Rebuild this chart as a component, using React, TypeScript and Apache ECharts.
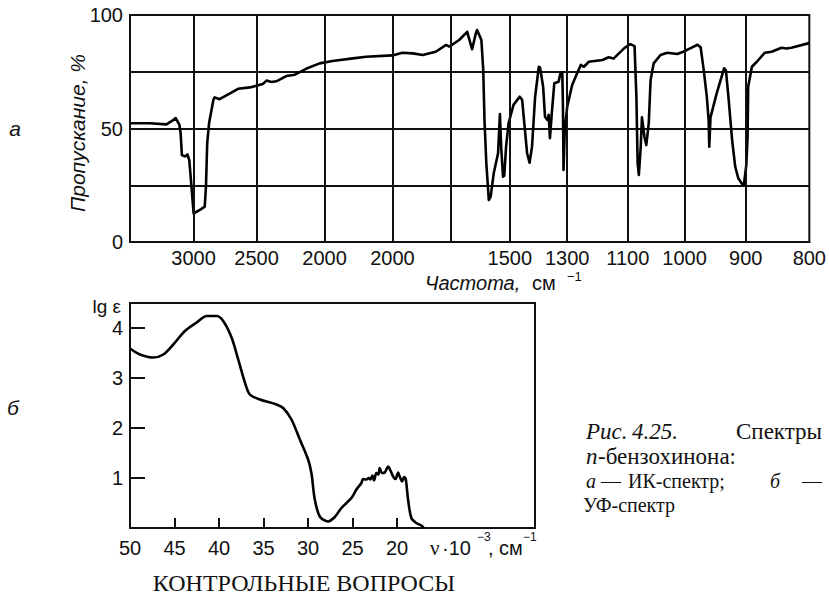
import React, { useEffect, useRef } from 'react';
import * as echarts from 'echarts';

// ---- IR spectrum (panel а) ----
// x positions are in "chart divisions" (the gridlines of the original chart)
const irGridPos = [0, 1.03, 2.05, 3.15, 4.25, 5.2, 6.15, 7.08, 8.06, 8.98, 9.97, 11];
const irTickLabels = ['', '3000', '2500', '2000', '2000', '', '1500', '1300', '1100', '1000', '900', '800'];

const irPos = [
  0.0, 0.32, 0.59, 0.7, 0.74, 0.8, 0.82, 0.84, 0.89, 0.93, 0.96, 1.0, 1.03, 1.13, 1.21, 1.23, 1.25, 1.28,
  1.35, 1.37, 1.45, 1.62, 1.75, 1.94, 2.15, 2.21, 2.29, 2.37, 2.53, 2.67, 2.85, 3.07, 3.28, 3.61, 3.82,
  4.25, 4.41, 4.58, 4.74, 4.95, 5.12, 5.17, 5.33, 5.46, 5.54, 5.6, 5.62,
  5.69, 5.72, 5.74, 5.77, 5.81, 5.84, 5.89, 5.96, 5.99, 6.01, 6.04, 6.06, 6.09, 6.13, 6.21, 6.31, 6.35,
  6.39, 6.43, 6.47, 6.51, 6.56, 6.62, 6.64, 6.69, 6.72, 6.76, 6.78, 6.8, 6.83, 6.87, 6.94, 6.97, 7.0,
  7.01, 7.02, 7.04, 7.08, 7.16, 7.24, 7.3, 7.35, 7.43, 7.65, 7.75, 7.83, 8.0,
  8.1, 8.17, 8.2, 8.22, 8.24, 8.27, 8.29, 8.33, 8.36, 8.4, 8.43, 8.48, 8.59, 8.7, 8.86, 8.96, 9.07,
  9.19, 9.24, 9.29, 9.34, 9.37, 9.38, 9.4, 9.5, 9.62, 9.65, 9.69, 9.75, 9.8, 9.85, 9.91, 9.94, 9.98,
  10.0, 10.01, 10.07, 10.15, 10.28, 10.39, 10.55, 10.63, 10.71, 10.98, 11.0,
];
const irTrans = [
  52.3, 52.3, 51.8, 53.7, 54.6, 51.6, 47.9, 38.3, 37.7, 38.6, 36.1, 22.9, 12.6, 14.1, 15.6, 24.4, 43.5, 52.3,
  62.6, 63.7, 62.9, 65.5, 67.5, 68.1, 69.6, 71.1, 70.5, 70.8, 73.1, 73.7, 76.3, 78.7, 79.7, 80.9, 81.6,
  82.2, 83.4, 83.1, 82.4, 83.8, 86.8, 86.1, 89.0, 92.6, 84.9, 91.9, 93.4,
  89.0, 75.8, 53.7, 34.7, 18.5, 20.0, 30.3, 39.1, 56.4, 42.0, 28.8, 29.2, 42.0, 52.3, 60.4, 64.0, 62.6,
  50.8, 39.1, 34.9, 42.0, 64.0, 77.2, 76.8, 68.4, 55.2, 53.7, 56.0, 45.7, 56.7, 69.9, 70.6, 74.3, 74.6,
  61.1, 31.7, 49.3, 59.6, 69.2, 74.3, 78.0, 77.2, 79.4, 80.2, 81.4, 80.8, 85.3,
  87.2, 86.3, 64.0, 34.7, 29.5, 42.0, 54.9, 46.4, 42.7, 52.3, 71.4, 78.7, 82.4, 83.4, 82.8, 83.8, 85.3,
  86.9, 85.8, 75.8, 64.0, 53.7, 42.0, 54.9, 65.5, 76.5, 75.5, 64.0, 44.9, 33.2, 28.1, 25.6, 25.1, 34.0,
  46.4, 68.4, 77.2, 79.4, 83.4, 83.8, 85.6, 85.2, 85.6, 87.5, 87.6,
];

// ---- UV spectrum (panel б) ----
const uvTicksX = [50, 45, 40, 35, 30, 25, 20];
const uvTicksY = [1, 2, 3, 4];
const uvWave = [
  50, 48.88, 47.38, 46.26, 45.14, 43.83, 42.51, 41.39, 40.27, 39.53, 38.59, 37.84, 37.09, 36.53, 35.41,
  33.54, 32.79, 31.86, 30.92, 29.99, 29.62, 29.24, 28.68, 27.75, 27.0, 26.25, 25.68, 25.12, 24.56, 24.0,
  23.82, 23.45, 23.18, 22.99, 22.77, 22.59, 22.32, 22.1, 21.95, 21.69, 21.38, 21.0, 20.74, 20.44, 20.17,
  19.88, 19.7, 19.43, 19.21, 19.02, 18.76, 18.39, 17.83, 17.26, 17.0,
];
const uvLgE = [
  3.59, 3.47, 3.41, 3.47, 3.67, 3.94, 4.11, 4.24, 4.24, 4.14, 3.81, 3.37, 2.91, 2.67, 2.57,
  2.47, 2.4, 2.17, 1.77, 1.37, 1.1, 0.57, 0.23, 0.13, 0.22, 0.4, 0.5, 0.6, 0.77, 0.9,
  0.98, 0.97, 1.0, 0.97, 1.05, 0.95, 1.1, 1.07, 1.2, 1.1, 1.11, 1.23, 1.15, 1.03, 0.98,
  1.11, 1.03, 0.93, 1.02, 0.98, 0.57, 0.2, 0.1, 0.05, 0.0,
];

const AX = '#111';
const SANS = '"Liberation Sans", Arial, sans-serif';
const SERIF = '"Liberation Serif", "Times New Roman", serif';

function irLabel(v: number): string {
  for (let i = 0; i < irGridPos.length; i++) {
    if (Math.abs(irGridPos[i] - v) < 1e-6) return irTickLabels[i];
  }
  return '';
}

function txt(text: string, x: number, y: number, font: string, align = 'left', extra: any = {}) {
  return {
    type: 'text',
    x,
    y,
    silent: true,
    ...extra,
    style: {
      text,
      font,
      fill: AX,
      align,
      textAlign: align,
      verticalAlign: 'middle',
      textVerticalAlign: 'middle',
    },
  };
}

export default function App() {
  const ref = useRef<HTMLDivElement>(null);

  useEffect(() => {
    if (!ref.current) return;
    const chart = echarts.init(ref.current, null, { renderer: 'svg' });

    const axisLine = { show: true, onZero: false, lineStyle: { color: AX, width: 2 } };
    const labelStyle = { color: AX, fontFamily: SANS, fontSize: 20 };

    const option: any = {
      animation: false,
      backgroundColor: '#fff',
      grid: [
        { left: 130, top: 15, width: 681, height: 227, show: true, borderColor: AX, borderWidth: 2, backgroundColor: 'transparent' },
        { left: 130, top: 303, width: 405, height: 225, show: true, borderColor: AX, borderWidth: 2, backgroundColor: 'transparent' },
      ],
      xAxis: [
        {
          type: 'value', gridIndex: 0, min: 0, max: 11,
          axisLine, axisTick: { show: false }, splitLine: { show: false },
          axisLabel: { ...labelStyle, customValues: irGridPos, formatter: (v: number) => irLabel(v), margin: 6, hideOverlap: false },
        },
        {
          type: 'value', gridIndex: 1, min: 4.5, max: 50, inverse: true,
          axisLine,
          axisTick: { show: true, inside: true, length: 10, customValues: uvTicksX, lineStyle: { color: AX, width: 2 } },
          axisLabel: { ...labelStyle, customValues: uvTicksX, margin: 10 },
          splitLine: { show: false },
        },
      ],
      yAxis: [
        {
          type: 'value', gridIndex: 0, min: 0, max: 100, interval: 25,
          axisLine, axisTick: { show: false },
          splitLine: { show: true, lineStyle: { color: AX, width: 2 } },
          axisLabel: { ...labelStyle, margin: 7, formatter: (v: number) => (v % 50 === 0 ? String(v) : '') },
        },
        {
          type: 'value', gridIndex: 1, min: 0, max: 4.5,
          axisLine,
          axisTick: { show: true, inside: true, length: 15, customValues: uvTicksY, lineStyle: { color: AX, width: 2 } },
          axisLabel: { ...labelStyle, customValues: uvTicksY, margin: 7 },
          splitLine: { show: false },
        },
      ],
      series: [
        {
          type: 'line', xAxisIndex: 0, yAxisIndex: 0,
          data: irPos.map((p, i) => [p, irTrans[i]]),
          symbol: 'none', showSymbol: false, smooth: false,
          lineStyle: { color: '#000', width: 2.6, join: 'round' },
          markLine: {
            silent: true, symbol: ['none', 'none'], label: { show: false },
            lineStyle: { type: 'solid', color: AX, width: 2 },
            emphasis: { disabled: true },
            data: irGridPos.slice(1, -1).map((v) => ({ xAxis: v })),
          },
        },
        {
          type: 'line', xAxisIndex: 1, yAxisIndex: 1,
          data: uvWave.map((w, i) => [w, uvLgE[i]]),
          symbol: 'none', showSymbol: false, smooth: 0.3,
          lineStyle: { color: '#000', width: 2.6, join: 'round' },
        },
      ],
      graphic: [
        txt('а', 15, 128, `italic 21px ${SANS}`, 'center'),
        txt('б', 13, 407, `italic 21px ${SANS}`, 'center'),
        txt('Пропускание, %', 77, 133, `italic 21px ${SANS}`, 'center', { rotation: Math.PI / 2 }),
        txt('Частота,', 425, 283, `italic 20px ${SANS}`, 'left'),
        txt('см', 532, 283, `20px ${SANS}`, 'left'),
        txt('−1', 567, 276, `13px ${SANS}`, 'left'),
        txt('lg ε', 121, 306, `19px ${SANS}`, 'right'),
        txt('ν', 430, 548, `21px ${SERIF}`, 'left'),
        txt('·10', 442, 548, `20px ${SANS}`, 'left'),
        txt('−3', 477, 537, `12px ${SANS}`, 'left'),
        txt(', см', 488, 548, `20px ${SANS}`, 'left'),
        txt('−1', 523, 537, `12px ${SANS}`, 'left'),
        // caption
        txt('Рис.', 586, 431, `italic 23px ${SERIF}`, 'left'),
        txt('4.25.', 632, 431, `italic 23px ${SERIF}`, 'left'),
        txt('Спектры', 822, 431, `23px ${SERIF}`, 'right'),
        txt('п', 586, 456, `italic 23px ${SERIF}`, 'left'),
        txt('-бензохинона:', 598, 456, `23px ${SERIF}`, 'left'),
        txt('а', 586, 481, `italic 20px ${SERIF}`, 'left'),
        txt('—', 601, 481, `20px ${SERIF}`, 'left'),
        txt('ИК-спектр;', 628, 481, `20px ${SERIF}`, 'left'),
        txt('б', 770, 481, `italic 20px ${SERIF}`, 'left'),
        txt('—', 822, 481, `20px ${SERIF}`, 'right'),
        txt('УФ-спектр', 583, 505, `20px ${SERIF}`, 'left'),
        txt('КОНТРОЛЬНЫЕ ВОПРОСЫ', 304, 583, `24px ${SERIF}`, 'center'),
      ],
    };

    chart.setOption(option);
    return () => chart.dispose();
  }, []);

  return (
    <div
      ref={ref}
      style={{ position: 'fixed', left: 0, top: 0, width: 829, height: 598, background: '#fff' }}
    />
  );
}
